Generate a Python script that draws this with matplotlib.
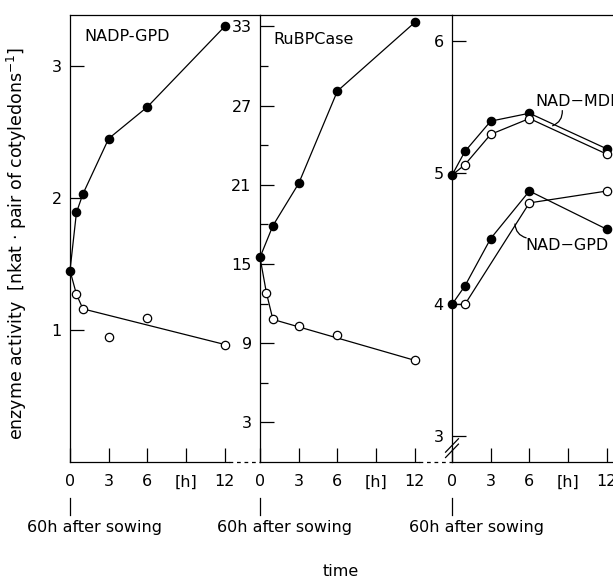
import matplotlib
matplotlib.use('Agg')
import matplotlib.pyplot as plt

plt.rcParams['font.family'] = ['DejaVu Sans']
plt.rcParams['font.size'] = 11.5

# ---- data ----
hours = [0, 3, 6, 9, 12]
hour_labels = ['0', '3', '6', '[h]', '12']

# NADP-GPD (nkat)
nadp_t = [0, 0.5, 1, 3, 6, 12]
nadp_filled = [1.45, 1.89, 2.03, 2.45, 2.69, 3.30]
nadp_open_t = [0.5, 1, 3, 6, 12]
nadp_open = [1.27, 1.16, 0.95, 1.09, 0.89]
nadp_open_line_t = [0, 0.5, 1, 12]
nadp_open_line = [1.45, 1.27, 1.16, 0.89]

# RuBPCase
rub_t = [0, 1, 3, 6, 12]
rub_filled = [15.5, 17.9, 21.1, 28.1, 33.3]
rub_open_t = [0.5, 1, 3, 6, 12]
rub_open = [12.8, 10.8, 10.3, 9.6, 7.7]
rub_open_line_t = [0, 0.5, 1, 12]
rub_open_line = [15.5, 12.8, 10.8, 7.7]

# NAD-MDH and NAD-GPD
nad_t = [0, 1, 3, 6, 12]
mdh_filled = [4.98, 5.16, 5.39, 5.45, 5.18]
mdh_open_t = [1, 3, 6, 12]
mdh_open = [5.06, 5.29, 5.41, 5.14]
gpd_filled = [4.0, 4.14, 4.5, 4.86, 4.57]
gpd_open_t = [1, 6, 12]
gpd_open = [4.0, 4.77, 4.86]

W, H = 613, 580
PX_H = 12.9          # pixels per hour
Y0, Y1 = 462, 15     # bottom / top of plotting area in pixels
LW = 0.9
MS = 6


def make_axes(fig, left_px, right_px):
    ax = fig.add_axes([left_px / W, 1 - Y0 / H, (right_px - left_px) / W, (Y0 - Y1) / H])
    ax.set_xlim(0, (right_px - left_px) / PX_H)
    ax.spines['right'].set_visible(False)
    for s in ax.spines.values():
        s.set_linewidth(LW)
    ax.set_xticks(hours)
    ax.set_xticklabels(hour_labels)
    ax.tick_params(axis='x', direction='in', length=10, width=LW, pad=9)
    ax.tick_params(axis='y', direction='in', length=10, width=LW, pad=6)
    ax.patch.set_alpha(0)
    # mark of 60 h after sowing
    tr = ax.get_xaxis_transform()
    ax.plot([0, 0], [-0.08, -0.118], color='k', lw=LW, transform=tr, clip_on=False)
    ax.text(-3.3, -0.147, '60h after sowing', transform=tr, ha='left', va='center')
    return ax


def dashed_bottom(ax):
    ax.spines['bottom'].set_visible(False)
    tr = ax.get_xaxis_transform()
    xmax = ax.get_xlim()[1]
    ax.plot([0, 12.3], [0, 0], color='k', lw=LW, transform=tr, clip_on=False)
    ax.plot([12.3, xmax], [0, 0], color='k', lw=LW, ls=(0, (3, 3)), transform=tr, clip_on=False)


def series(ax, x, y, filled, line=True):
    ax.plot(x, y, color='k', lw=LW if line else 0, marker='o', ms=MS,
            mfc='k' if filled else 'white', mec='k', mew=LW, clip_on=False, zorder=3)


fig = plt.figure(figsize=(W / 100, H / 100), dpi=100)

# panel 1: NADP-GPD
ax1 = make_axes(fig, 70, 260)
ax1.set_ylim(0, 3.386)
ax1.set_yticks([1, 2, 3])
dashed_bottom(ax1)
series(ax1, nadp_t, nadp_filled, True)
ax1.plot(nadp_open_line_t, nadp_open_line, color='k', lw=LW, zorder=2)
series(ax1, nadp_open_t, nadp_open, False, line=False)
ax1.text(1.1, 3.22, 'NADP-GPD', ha='left', va='center')

# panel 2: RuBPCase
ax2 = make_axes(fig, 260, 452)
ax2.set_ylim(0, 33.86)
ax2.set_yticks([3, 9, 15, 21, 27, 33])
ax2.set_yticks([6, 12, 18, 24, 30], minor=True)
ax2.tick_params(axis='y', which='minor', direction='in', length=6, width=LW)
dashed_bottom(ax2)
series(ax2, rub_t, rub_filled, True)
ax2.plot(rub_open_line_t, rub_open_line, color='k', lw=LW, zorder=2)
series(ax2, rub_open_t, rub_open, False, line=False)
ax2.text(1.0, 32.0, 'RuBPCase', ha='left', va='center')

# panel 3: NAD-MDH / NAD-GPD
ax3 = make_axes(fig, 452, 613)
ax3.set_ylim(2.805, 6.195)
ax3.set_yticks([3, 4, 5, 6])
series(ax3, nad_t, mdh_filled, True)
ax3.plot([nad_t[0]] + mdh_open_t, [mdh_filled[0]] + mdh_open, color='k', lw=LW, zorder=2)
series(ax3, mdh_open_t, mdh_open, False, line=False)
series(ax3, nad_t, gpd_filled, True)
ax3.plot([nad_t[0]] + gpd_open_t, [gpd_filled[0]] + gpd_open, color='k', lw=LW, zorder=2)
series(ax3, gpd_open_t, gpd_open, False, line=False)

ax3.text(6.45, 5.54, 'NAD\u2212MDH', ha='left', va='center', clip_on=False)
ax3.annotate('', xy=(7.8, 5.355), xytext=(8.55, 5.47), annotation_clip=False,
             arrowprops=dict(arrowstyle='-', lw=LW, color='k',
                             connectionstyle='arc3,rad=-0.35', shrinkA=0, shrinkB=0))
ax3.text(5.7, 4.45, 'NAD\u2212GPD', ha='left', va='center', clip_on=False)
ax3.annotate('', xy=(4.88, 4.61), xytext=(5.75, 4.505), annotation_clip=False,
             arrowprops=dict(arrowstyle='-', lw=LW, color='k',
                             connectionstyle='arc3,rad=-0.35', shrinkA=0, shrinkB=0))

# axis break on the third panel
trb = ax3.transAxes
for dy in (0.0, 0.012):
    ax3.plot([-0.04, 0.04], [0.01 + dy, 0.04 + dy], color='k', lw=LW, transform=trb, clip_on=False)

fig.text(0.028, 1 - 243 / H, 'enzyme activity  [nkat \u00b7 pair of cotyledons$^{-1}$]',
         rotation=90, ha='center', va='center', fontsize=12.5)
fig.text(341 / W, 1 - 572 / H, 'time', ha='center', va='center')

fig.savefig('out.png', dpi=100)
